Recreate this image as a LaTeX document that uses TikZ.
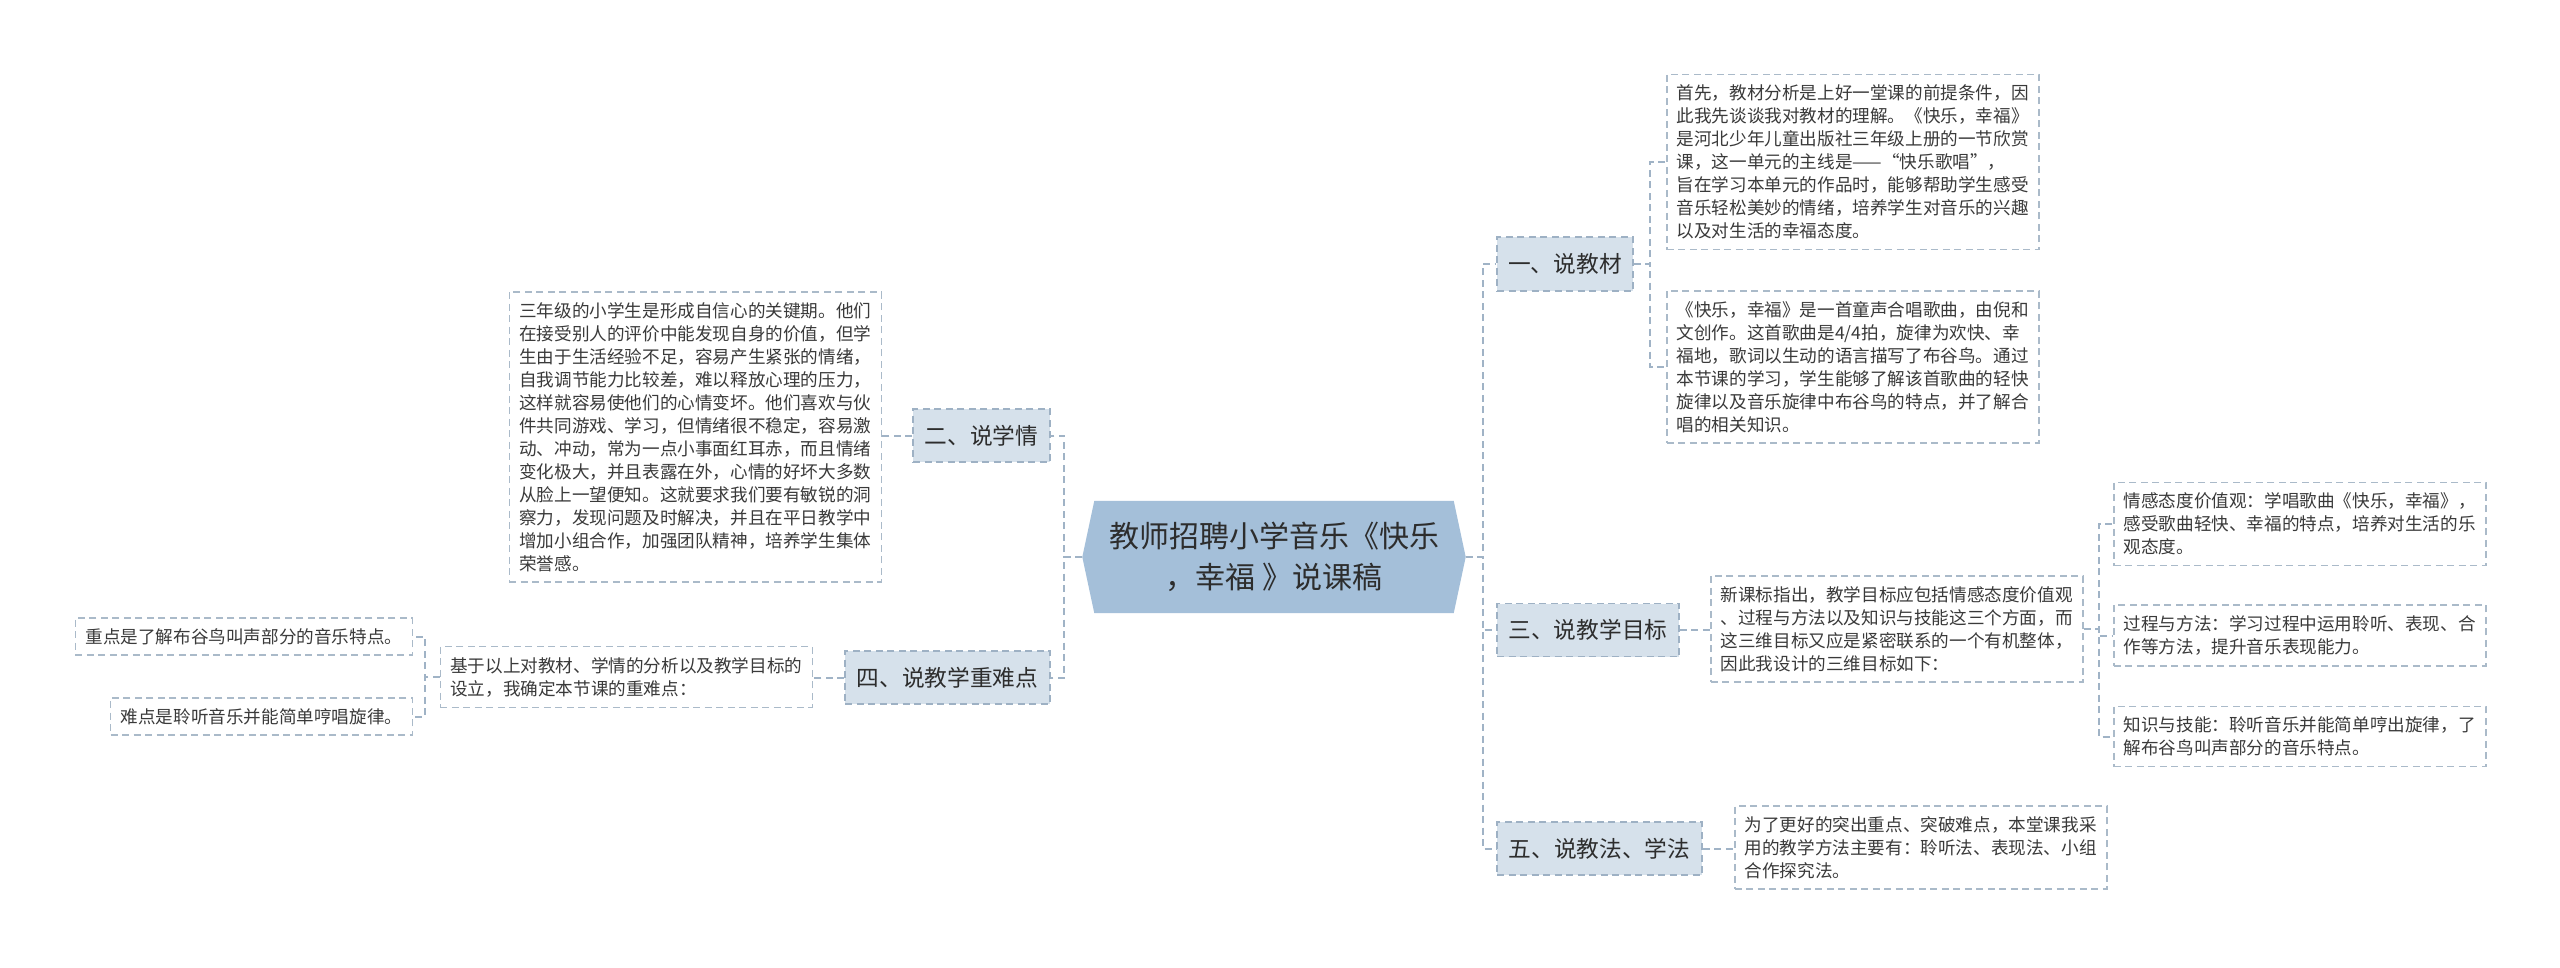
\documentclass[tikz,border=0pt]{standalone}
\usepackage{fontspec}
\setmainfont{Noto Sans CJK SC}
\usetikzlibrary{calc}
\pgfdeclarelayer{bg}
\pgfsetlayers{bg,main}
\definecolor{cfill}{RGB}{164,191,217}
\definecolor{lvlfill}{RGB}{214,225,235}
\definecolor{lvlline}{RGB}{158,177,196}
\definecolor{boxline}{RGB}{170,186,201}
\definecolor{linkcol}{RGB}{160,179,198}
\definecolor{txtcol}{RGB}{58,58,58}
\definecolor{headcol}{RGB}{45,45,45}
\begin{document}
\begin{tikzpicture}[x=1pt,y=-1pt,
  txtbox/.style={draw=boxline, line width=1.5pt, dash pattern=on 7pt off 4.5pt, fill=white,
    align=left, inner xsep=10pt, inner ysep=10.5pt, text=txtcol,
    font=\fontsize{17.6}{23}\selectfont},
  lvl/.style={draw=lvlline, fill=lvlfill, line width=1.5pt, dash pattern=on 7pt off 4.5pt,
    inner sep=0pt, align=center, text=headcol, font=\fontsize{22.7}{27}\selectfont},
  link/.style={draw=linkcol, line width=2pt, dash pattern=on 7pt off 4.5pt},
  central/.style={inner sep=0pt, align=center, text=headcol, minimum width=383pt, minimum height=112pt,
    font=\fontsize{30}{41}\selectfont}]
\useasboundingbox (0,0) rectangle (2560,967);

% central
\node[central] (c) at (1274,557) {教师招聘小学音乐《快乐\\，幸福 》说课稿};
\begin{pgfonlayer}{bg}
\fill[white] (0,0) rectangle (2560,967);
\fill[cfill] ([xshift=12pt]c.north west) -- ([xshift=-12pt]c.north east) -- (c.east)
  -- ([xshift=-12pt]c.south east) -- ([xshift=12pt]c.south west) -- (c.west) -- cycle;
\end{pgfonlayer}

% level-1 nodes
\node[lvl, minimum width=136pt, minimum height=54pt] (n1) at (1565,264) {一、说教材};
\node[lvl, minimum width=182pt, minimum height=53pt] (n3) at (1588,630) {三、说教学目标};
\node[lvl, minimum width=205pt, minimum height=53pt] (n5) at (1599.5,848.5) {五、说教法、学法};
\node[lvl, minimum width=137pt, minimum height=53pt] (n2) at (981.5,435.5) {二、说学情};
\node[lvl, minimum width=205pt, minimum height=53pt] (n4) at (947.5,677.5) {四、说教学重难点};

% text boxes right
\node[txtbox, anchor=west] (b1) at (1666,162) {首先，教材分析是上好一堂课的前提条件，因\\此我先谈谈我对教材的理解。《快乐，幸福》\\是河北少年儿童出版社三年级上册的一节欣赏\\课，这一单元的主线是——“快乐歌唱”，\\旨在学习本单元的作品时，能够帮助学生感受\\音乐轻松美妙的情绪，培养学生对音乐的兴趣\\以及对生活的幸福态度。};
\node[txtbox, anchor=west] (b2) at (1666,367) {《快乐，幸福》是一首童声合唱歌曲，由倪和\\文创作。这首歌曲是4/4拍，旋律为欢快、幸\\福地，歌词以生动的语言描写了布谷鸟。通过\\本节课的学习，学生能够了解该首歌曲的轻快\\旋律以及音乐旋律中布谷鸟的特点，并了解合\\唱的相关知识。};
\node[txtbox, anchor=west] (b3) at (1710,629) {新课标指出，教学目标应包括情感态度价值观\\、过程与方法以及知识与技能这三个方面，而\\这三维目标又应是紧密联系的一个有机整体，\\因此我设计的三维目标如下：};
\node[txtbox, anchor=west] (b3a) at (2113,524) {情感态度价值观：学唱歌曲《快乐，幸福》，\\感受歌曲轻快、幸福的特点，培养对生活的乐\\观态度。};
\node[txtbox, anchor=west] (b3b) at (2113,635.5) {过程与方法：学习过程中运用聆听、表现、合\\作等方法，提升音乐表现能力。};
\node[txtbox, anchor=west] (b3c) at (2113,736.5) {知识与技能：聆听音乐并能简单哼出旋律，了\\解布谷鸟叫声部分的音乐特点。};
\node[txtbox, anchor=west] (b5) at (1734,847.5) {为了更好的突出重点、突破难点，本堂课我采\\用的教学方法主要有：聆听法、表现法、小组\\合作探究法。};

% text boxes left
\node[txtbox, anchor=east] (bl2) at (882,437) {三年级的小学生是形成自信心的关键期。他们\\在接受别人的评价中能发现自身的价值，但学\\生由于生活经验不足，容易产生紧张的情绪，\\自我调节能力比较差，难以释放心理的压力，\\这样就容易使他们的心情变坏。他们喜欢与伙\\件共同游戏、学习，但情绪很不稳定，容易激\\动、冲动，常为一点小事面红耳赤，而且情绪\\变化极大，并且表露在外，心情的好坏大多数\\从脸上一望便知。这就要求我们要有敏锐的洞\\察力，发现问题及时解决，并且在平日教学中\\增加小组合作，加强团队精神，培养学生集体\\荣誉感。};
\node[txtbox, anchor=east] (bl4) at (813,677) {基于以上对教材、学情的分析以及教学目标的\\设立，我确定本节课的重难点：};
\node[txtbox, anchor=east] (bz) at (413,636.5) {重点是了解布谷鸟叫声部分的音乐特点。};
\node[txtbox, anchor=east] (bn) at (413,716.5) {难点是聆听音乐并能简单哼唱旋律。};

% connectors: central to level-1
\draw[link] (c.east) -- ++(17,0) |- (n1.west);
\draw[link] (c.east) -- ++(17,0) |- (n3.west);
\draw[link] (c.east) -- ++(17,0) |- (n5.west);
\draw[link] (c.west) -- ++(-18,0) |- (n2.east);
\draw[link] (c.west) -- ++(-18,0) |- (n4.east);

% level-1 to boxes
\draw[link] (n1.east) -- ++(16,0) |- (b1.west);
\draw[link] (n1.east) -- ++(16,0) |- (b2.west);
\draw[link] (n3.east) -- (n3.east -| b3.west);
\draw[link] (n5.east) -- (n5.east -| b5.west);
\draw[link] (n2.west) -- (n2.west -| bl2.east);
\draw[link] (n4.west) -- (n4.west -| bl4.east);

% second level
\draw[link] (b3.east) -- ++(15,0) |- (b3a.west);
\draw[link] (b3.east) -- ++(15,0) |- (b3b.west);
\draw[link] (b3.east) -- ++(15,0) |- (b3c.west);
\draw[link] (bl4.west) -- ++(-15,0) |- (bz.east);
\draw[link] (bl4.west) -- ++(-15,0) |- (bn.east);
\end{tikzpicture}
\end{document}
